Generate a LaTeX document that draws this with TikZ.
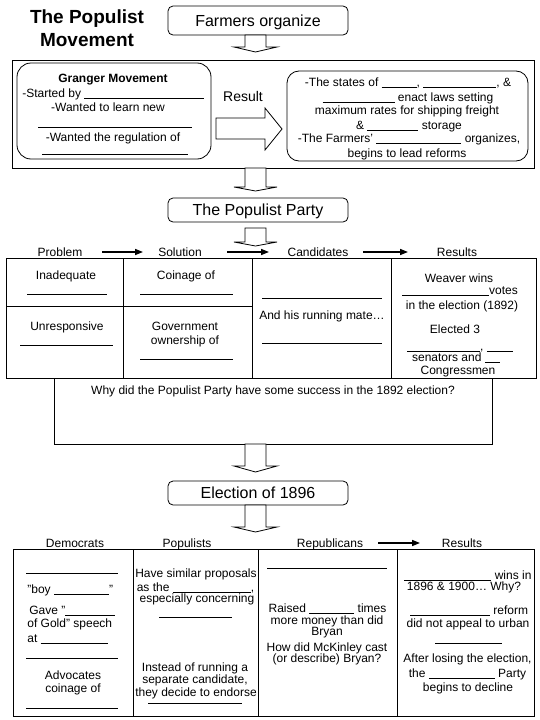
\documentclass[tikz,border=0pt]{standalone}
\usepackage{fontspec}
\setmainfont{Liberation Sans}
\usetikzlibrary{arrows.meta}
\newcommand\bl[1]{\rule[-1.6pt]{#1pt}{0.8pt}}
\begin{document}
\begin{tikzpicture}[x=1pt,y=-1pt,line width=0.8pt,
  txt/.style={font=\fontsize{12}{14}\selectfont,inner sep=0pt,text height=8.6pt,text depth=0pt},
  txtl/.style={txt,anchor=west},
  bold/.style={txt,font=\bfseries\fontsize{12}{14}\selectfont},
  ttl/.style={font=\bfseries\fontsize{19}{22}\selectfont,inner sep=0pt,anchor=base},
  bigbox/.style={draw,rounded corners=5pt,font=\fontsize{16}{18}\selectfont,inner sep=0pt,text height=11.5pt,text depth=0pt,minimum width=180pt,minimum height=24pt},
  res/.style={font=\fontsize{14}{16}\selectfont,inner sep=0pt,text height=10pt,text depth=0pt},
  blockarrow/.style={draw,fill=white},
  hdrarrow/.style={-{Triangle[length=8pt,width=6pt]},line width=1.5pt},
  frame/.style={draw}]
\useasboundingbox (0,0) rectangle (540,720);
\fill[white] (0,0) rectangle (540,720);

% ---- title and first box
\node[ttl] (ttl1) at (87,23.3) {The Populist};
\node[ttl] (ttl2) at (87,46.7) {Movement};
\node[bigbox,minimum height=29pt] (farm) at (258,20.5) {Farmers organize};
\draw[blockarrow] (245,35) -- (245,47) -- (234,47) -- (255.5,52) -- (277,47) -- (266,47) -- (266,35) -- cycle;

% ---- Granger section
\draw[frame] (12,60) rectangle (534,168);
\draw[frame,rounded corners=14pt] (17,63) rectangle (211,159);
\node[bold] (gm) at (113,78) {Granger Movement};
\node[txtl] (g1) at (22,93) {-Started by \bl{120}};
\node[txt] (g2) at (108,107) {-Wanted to learn new};
\draw (38,127) -- (192,127);
\node[txt] (g3) at (113,137) {-Wanted the regulation of};
\draw (42,154) -- (188,154);

\node[res] (result) at (243,96) {Result};
\draw[blockarrow] (216,118) -- (265,118) -- (265,108) -- (282,129) -- (265,150) -- (265,139) -- (216,139) -- cycle;

\draw[frame,rounded corners=12pt] (287,71) rectangle (528,161);
\node[txt] (r1) at (408,82) {-The states of \bl{35}, \bl{73}, \&};
\node[txt] (r2) at (408,97) {\bl{72} enact laws setting};
\node[txt] (r3) at (407,110) {maximum rates for shipping freight};
\node[txt] (r4) at (409,125) {\& \bl{51} storage};
\node[txt] (r5) at (409,138) {-The Farmers' \bl{85} organizes,};
\node[txt] (r6) at (407,153) {begins to lead reforms};

\draw[blockarrow] (245,168) -- (245,187) -- (234,187) -- (255.5,191) -- (277,187) -- (266,187) -- (266,168) -- cycle;

% ---- Populist party
\node[bigbox] (pp) at (258,210) {The Populist Party};
\draw[blockarrow] (245,228) -- (245,242) -- (234,242) -- (255.5,246) -- (277,242) -- (266,242) -- (266,228) -- cycle;

\node[txt] (h1) at (60,252) {Problem};
\node[txt] (h2) at (180,252) {Solution};
\node[txt] (h3) at (318,252) {Candidates};
\node[txt] (h4) at (457,252) {Results};
\coordinate (a1s) at (102,252); \coordinate (a1e) at (143,252);
\coordinate (a2s) at (227,252); \coordinate (a2e) at (269,252);
\coordinate (a3s) at (363,252); \coordinate (a3e) at (408,252);
\draw[hdrarrow] (a1s) -- (a1e);
\draw[hdrarrow] (a2s) -- (a2e);
\draw[hdrarrow] (a3s) -- (a3e);

\draw[frame] (6,258) rectangle (536,378);
\draw (123,258) -- (123,378);
\draw (252,258) -- (252,378);
\draw (391,258) -- (391,378);
\draw (6,306) -- (252,306);

\node[txt] (c11) at (66,275) {Inadequate};
\draw (27,294) -- (107,294);
\node[txt] (c12) at (186,275) {Coinage of};
\draw (140,294) -- (233,294);
\node[txt] (c21) at (67,326) {Unresponsive};
\draw (20,345) -- (113,345);
\node[txt] (c22a) at (185,326) {Government};
\node[txt] (c22b) at (185,340) {ownership of};
\draw (140,359) -- (233,359);
\draw (262,298) -- (382,298);
\node[txt] (c3) at (322,315) {And his running mate…};
\draw (262,343) -- (382,343);
\node[txt] (c41) at (459,278) {Weaver wins};
\node[txt] (c42) at (460,290) {\bl{87}votes};
\node[txt] (c43) at (462,305) {in the election (1892)};
\node[txt] (c44) at (455,329) {Elected 3};
\node[txt] (c45) at (460,346) {\bl{73}, \bl{26}};
\node[txt] (c46) at (456,357) {senators and \bl{15}};
\node[txt] (c47) at (458,370) {Congressmen};

% ---- why box
\draw (54,378) -- (54,444) -- (492,444) -- (492,378);
\node[txt] (why) at (273,390) {Why did the Populist Party have some success in the 1892 election?};
\draw[blockarrow] (245,444) -- (245,466) -- (234,466) -- (255.5,472) -- (277,466) -- (266,466) -- (266,444) -- cycle;

% ---- Election of 1896
\node[bigbox] (el) at (258,493) {Election of 1896};
\draw[blockarrow] (245,505) -- (245,527) -- (234,527) -- (255.5,532) -- (277,527) -- (266,527) -- (266,505) -- cycle;

\node[txt] (d0) at (75,543) {Democrats};
\node[txt] (p0) at (187,543) {Populists};
\node[txt] (rp0) at (330,543) {Republicans};
\node[txt] (rs0) at (462,543) {Results};
\coordinate (a4s) at (378,543); \coordinate (a4e) at (420,543);
\draw[hdrarrow] (a4s) -- (a4e);

\draw[frame] (13,549) rectangle (534,716);
\draw (133,549) -- (133,716);
\draw (258,549) -- (258,716);
\draw (397,549) -- (397,716);

% Democrats
\draw (26,573) -- (118,573);
\node[txtl] (d1) at (27,589) {"boy \bl{55}"};
\node[txtl] (d2) at (29,610) {Gave "\bl{50}};
\node[txtl] (d3) at (27,623) {of Gold" speech};
\node[txtl] (d4) at (27,638) {at \bl{67}};
\draw (26,658) -- (118,658);
\node[txt] (d5) at (73,675) {Advocates};
\node[txt] (d6) at (73,688) {coinage of};
\draw (26,708) -- (118,708);

% Populists
\node[txt] (p1) at (196,573) {Have similar proposals};
\node[txt] (p2) at (195.5,587) {as the \bl{78},};
\node[txt] (p3) at (197,598) {especially concerning};
\draw (159,617) -- (232,617);
\node[txt] (p4) at (195,667) {Instead of running a};
\node[txt] (p5) at (195,679) {separate candidate,};
\node[txt] (p6) at (196,692) {they decide to endorse};
\draw (148,703) -- (242,703);

% Republicans
\draw (267,568) -- (387,568);
\node[txt] (q1) at (327.5,608) {Raised \bl{45} times};
\node[txt] (q2) at (327,620) {more money than did};
\node[txt] (q3) at (327,631) {Bryan};
\node[txt] (q4) at (327,647) {How did McKinley cast};
\node[txt] (q5) at (327,658) {(or describe) Bryan?};

% Results
\node[txt] (s1) at (468,575) {\bl{87} wins in};
\node[txt] (s2) at (464,586) {1896 \& 1900… Why?};
\node[txt] (s3) at (469,610) {\bl{80} reform};
\node[txt] (s4) at (468,623) {did not appeal to urban};
\draw (435,643) -- (502,643);
\node[txt] (s5) at (467.5,658) {After losing the election,};
\node[txt] (s6) at (467.5,673) {the \bl{66} Party};
\node[txt] (s7) at (468,687) {begins to decline};
\end{tikzpicture}
\end{document}
